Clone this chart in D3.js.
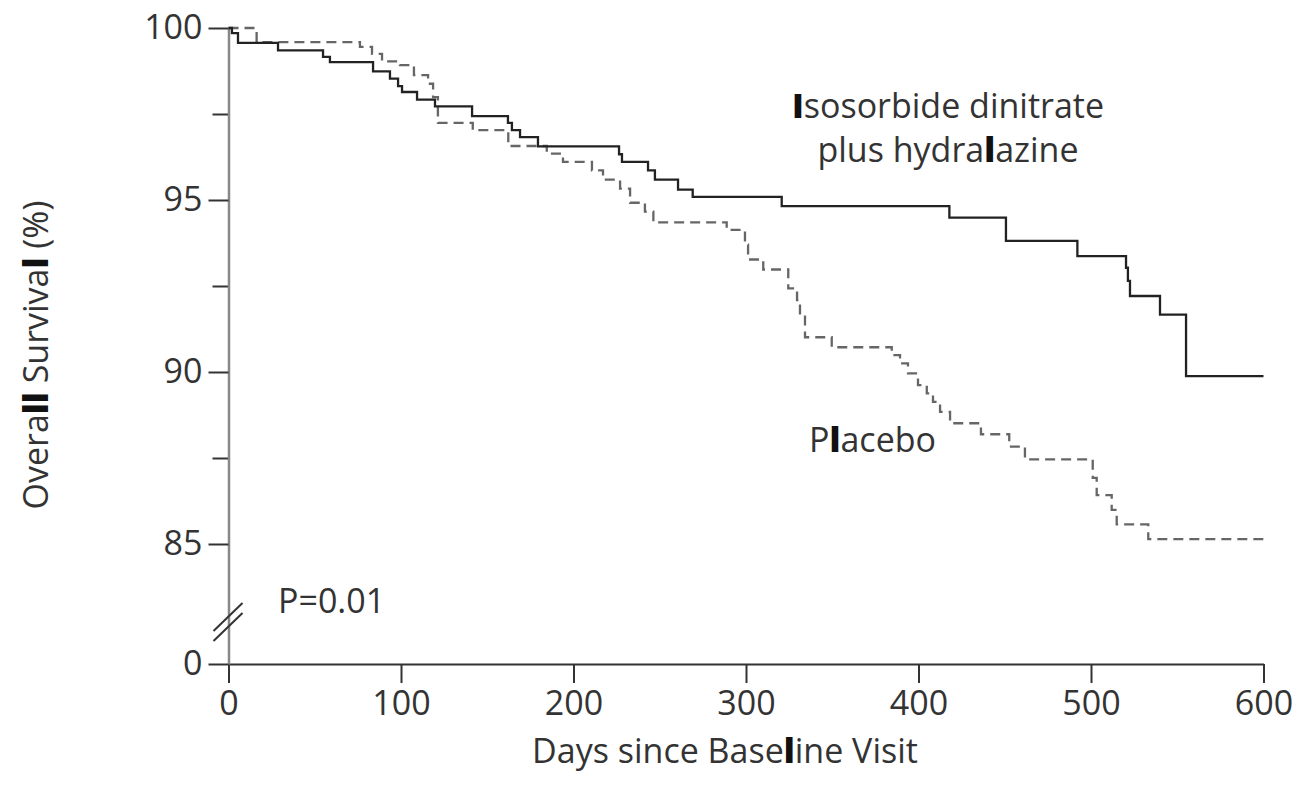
<!DOCTYPE html>
<meta charset="utf-8">
<style>
body { margin: 0; background: #fff; }
svg text { font-family: "Open Sans", "DejaVu Sans", sans-serif; font-size: 34px; fill: #333; }
.b { font-weight: 800; fill: #111; }
.axis--y .domain { stroke: #888; stroke-width: 2.5; }
.axis--y .tick line, .axis--minor .tick line { stroke: #333; stroke-width: 2; }
.axis--x .domain, .axis--x .tick line { stroke: #333; stroke-width: 2; }
.isdn { fill: none; stroke: #222; stroke-width: 2.3; }
.placebo { fill: none; stroke: #666; stroke-width: 2.3; stroke-dasharray: 10,6; }
.brk { stroke: #333; stroke-width: 2; }
</style>
<svg width="1297" height="799"></svg>
<script src="https://cdn.jsdelivr.net/npm/d3@7"></script>
<script>

// Kaplan-Meier step points (day of event, survival % after event)
var isdnDays = [0, 2, 5.5, 28.7, 54.8, 58.8, 83.8, 93.6, 98.3, 100.6, 109.3, 119.7, 141.2, 162, 164.3, 169, 179.4,
                226.4, 228.1, 243.2, 247.2, 260.6, 269.1, 320.7, 417.9, 450.7, 492.1, 520.3, 521.4, 522.6, 540, 555.1];
var isdnSurv = [100, 99.85, 99.57, 99.35, 99.16, 99.01, 98.74, 98.53, 98.31, 98.14, 97.92, 97.72, 97.44, 97.24, 97.03, 96.83, 96.56,
                96.33, 96.11, 95.86, 95.59, 95.30, 95.09, 94.82, 94.49, 93.81, 93.37, 93.03, 92.65, 92.21, 91.67, 89.88];

var placeboDays = [0, 16.3, 76.2, 83.2, 89, 99.4, 107.5, 115.7, 118.6, 121.4, 141.6, 162.2, 184.5, 193.9, 210.7, 217.1,
                   227, 232.8, 241.4, 246.3, 288.8, 299.4, 301.2, 310, 324.5, 329.6, 331.3, 334.2, 349.7, 384.5, 389.3,
                   393.9, 399.7, 404.8, 408.4, 412.5, 418.3, 436.2, 452.6, 461.7, 501, 503.3, 512, 514.9, 533.2];
var placeboSurv = [100, 99.59, 99.45, 99.25, 99.03, 98.92, 98.63, 98.38, 97.99, 97.24, 97.03, 96.57, 96.35, 96.11, 95.86, 95.59,
                   95.33, 94.92, 94.66, 94.35, 94.13, 93.70, 93.27, 92.98, 92.43, 92.09, 91.61, 91.01, 90.72, 90.49, 90.25,
                   89.96, 89.62, 89.38, 89.13, 88.84, 88.51, 88.19, 87.83, 87.46, 86.92, 86.42, 85.99, 85.57, 85.14];

var lastDay = 600;
var xTicks = [0, 100, 200, 300, 400, 500, 600];
var yTicks = [0, 85, 90, 95, 100];
var yMinor = [87.5, 92.5, 97.5];

var svg = d3.select("svg");

// y axis is broken between 0 and 85
var x = d3.scaleLinear().domain([0, 600]).range([228.5, 1263.5]),
    y = d3.scaleLinear().domain([0, 85, 100]).range([664, 544, 28]);

function steps(days, surv) {
  var pts = days.map(function(d, i) { return [d, surv[i]]; });
  pts.push([lastDay, surv[surv.length - 1]]);
  return pts;
}

var line = d3.line()
    .curve(d3.curveStepAfter)
    .x(function(d) { return x(d[0]); })
    .y(function(d) { return y(d[1]); });

svg.append("g")
    .attr("class", "axis axis--x")
    .attr("transform", "translate(0," + y(0) + ")")
    .call(d3.axisBottom(x).tickValues(xTicks).tickSize(19).tickSizeOuter(0).tickPadding(8));

svg.append("g")
    .attr("class", "axis axis--minor")
    .attr("transform", "translate(" + x(0) + ",0)")
    .call(d3.axisLeft(y).tickValues(yMinor).tickSize(16).tickFormat(""))
    .select(".domain").remove();

svg.append("g")
    .attr("class", "axis axis--y")
    .attr("transform", "translate(" + x(0) + ",0)")
    .call(d3.axisLeft(y).tickValues(yTicks).tickSize(20).tickSizeOuter(0).tickPadding(6));

svg.selectAll(".axis").attr("color", "#333");

// axis break marks
[617, 627].forEach(function(cy) {
  svg.append("line").attr("class", "brk")
      .attr("x1", x(0) - 15).attr("y1", cy + 14)
      .attr("x2", x(0) + 14).attr("y2", cy - 14);
});

svg.append("path")
    .datum(steps(placeboDays, placeboSurv))
    .attr("class", "placebo")
    .attr("d", line);

svg.append("path")
    .datum(steps(isdnDays, isdnSurv))
    .attr("class", "isdn")
    .attr("d", line);

// labels
var t1 = svg.append("text").attr("x", 948).attr("y", 118).attr("text-anchor", "middle");
t1.append("tspan").attr("class", "b").text("I");
t1.append("tspan").text("sosorbide dinitrate");

var t2 = svg.append("text").attr("x", 948).attr("y", 162).attr("text-anchor", "middle");
t2.append("tspan").text("plus hydra");
t2.append("tspan").attr("class", "b").text("l");
t2.append("tspan").text("azine");

var t3 = svg.append("text").attr("x", 809).attr("y", 452);
t3.append("tspan").text("P");
t3.append("tspan").attr("class", "b").text("l");
t3.append("tspan").text("acebo");

svg.append("text").attr("x", 278).attr("y", 613).text("P=0.01");

var xt = svg.append("text").attr("x", 725).attr("y", 763).attr("text-anchor", "middle");
xt.append("tspan").text("Days since Base");
xt.append("tspan").attr("class", "b").text("l");
xt.append("tspan").text("ine Visit");

var yt = svg.append("text").attr("transform", "translate(48,355) rotate(-90)").attr("text-anchor", "middle");
yt.append("tspan").text("Overa");
yt.append("tspan").attr("class", "b").text("ll");
yt.append("tspan").text(" Surviva");
yt.append("tspan").attr("class", "b").text("l");
yt.append("tspan").text(" (%)");

</script>
